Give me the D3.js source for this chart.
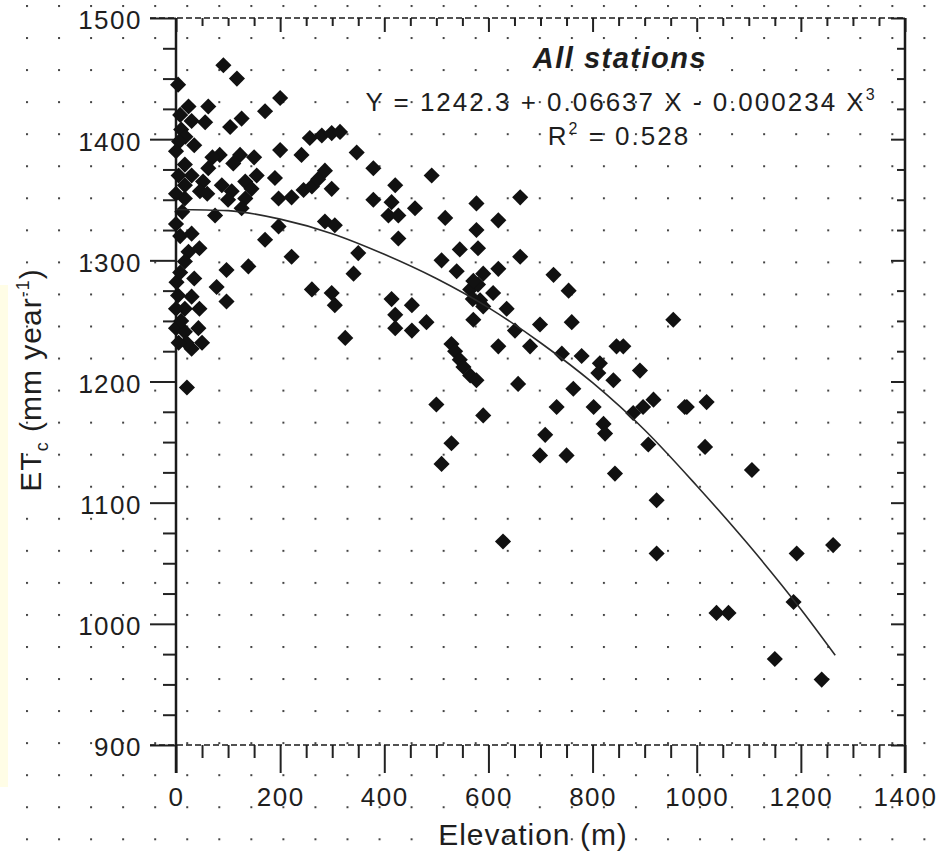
<!DOCTYPE html>
<html>
<head>
<meta charset="utf-8">
<script src="https://cdn.jsdelivr.net/npm/d3@7"></script>
<style>
body { margin: 0; background: #fff; }
text { font-family: Arial, "Liberation Sans", sans-serif; fill: #1e1e1e; }
</style>
</head>
<body>
<svg id="chart" width="939" height="853"></svg>
<script>
// station elevation (m) and ET (mm/year)
var elevation = [
  91, 117, 4, 200, 171, 24, 62, 126, 104, 10, 18, 6, 56, 257, 280, 299, 315, 200, 241, 347,
  379, 84, 123, 62, 52, 46, 88, 107, 133, 145, 133, 17, 17, 17, 12, 190, 197, 222, 245, 261,
  273, 286, 299, 75, 126, 197, 171, 286, 305, 379, 421, 414, 408, 427, 459, 427, 24, 17, 97, 139,
  222, 350, 341, 78, 97, 261, 299, 305, 325, 414, 421, 453, 421, 453, 1, 4, 17, 0, 17, 43,
  30, 21, 8, 30, 0, 35, 5, 30, 0, 0, 8, 30, 45, 8, 35, 0, 30, 10, 45, 20,
  50, 5, 70, 150, 110, 155, 60, 100,
  491, 517, 577, 661, 619, 577, 580, 545, 661, 510, 539, 590, 619, 725, 754, 565, 584, 580, 571, 609,
  571, 635, 481, 651, 699, 760, 955, 529, 536, 545, 552, 565, 577, 619, 680, 741, 779, 814, 811, 840,
  846, 891, 657, 763, 500, 590, 731, 802, 821, 824, 878, 897, 917, 981, 529, 709, 907, 699, 750, 510,
  570, 590, 859, 977, 1019, 1016, 843, 1106, 923, 923, 1192, 1262, 1038, 1061, 1186, 1150, 1240, 628
];
var et = [
  1461, 1450, 1445, 1434, 1423, 1427, 1427, 1417, 1410, 1408, 1402, 1398, 1414, 1401, 1403, 1405, 1406, 1391, 1387, 1389,
  1376, 1387, 1387, 1376, 1365, 1357, 1362, 1357, 1365, 1359, 1351, 1379, 1362, 1351, 1340, 1368, 1351, 1352, 1358, 1361,
  1367, 1374, 1359, 1337, 1343, 1328, 1317, 1332, 1329, 1350, 1362, 1348, 1337, 1337, 1343, 1318, 1307, 1299, 1292, 1295,
  1303, 1306, 1289, 1278, 1266, 1276, 1273, 1263, 1236, 1268, 1255, 1263, 1244, 1242, 1282, 1271, 1260, 1244, 1241, 1244,
  1227, 1195, 1420, 1415, 1390, 1395, 1370, 1370, 1355, 1330, 1320, 1322, 1310, 1290, 1285, 1260, 1270, 1250, 1260, 1232,
  1232, 1232, 1385, 1385, 1380, 1370, 1355, 1350,
  1370, 1335, 1347, 1352, 1333, 1325, 1310, 1309, 1303, 1300, 1291, 1289, 1293, 1288, 1275, 1276, 1267, 1280, 1283, 1273,
  1251, 1260, 1249, 1242, 1247, 1249, 1251, 1231, 1225, 1218, 1212, 1205, 1201, 1229, 1229, 1223, 1221, 1215, 1207, 1201,
  1229, 1209, 1198, 1194, 1181, 1172, 1179, 1179, 1165, 1157, 1174, 1179, 1185, 1179, 1149, 1156, 1148, 1139, 1139, 1132,
  1268, 1262, 1229, 1179, 1183, 1146, 1124, 1127, 1102, 1058, 1058, 1065, 1009, 1009, 1018, 971, 954, 1068
];

// regression curve as drawn in the figure
var fitElevation = [0, 100, 200, 300, 400, 500, 600, 700, 800, 900, 1000, 1100, 1200, 1266];
var fitEt = [1342, 1341, 1334, 1322, 1305, 1285, 1261, 1232, 1199, 1160, 1114, 1065, 1012, 974];

var xMajor = [0, 200, 400, 600, 800, 1000, 1200, 1400];
var yMajor = [900, 1000, 1100, 1200, 1300, 1400, 1500];

var titleText = "All stations";
var equationText = "Y = 1242.3 + 0.06637 X - 0.000234 X";
var equationPower = "3";
var r2Value = "0.528";

var svg = d3.select("#chart");

var x = d3.scaleLinear().domain([0, 1400]).range([176, 905]);
var y = d3.scaleLinear().domain([900, 1500]).range([745, 18]);

var xMinor = d3.range(0, 1401, 50).filter(function(v) { return v % 200 !== 0; });
var yMinor = d3.range(900, 1501, 25).filter(function(v) { return v % 100 !== 0; });

// dotted background of the scan
var defs = svg.append("defs");
var pat = defs.append("pattern")
  .attr("id", "dots")
  .attr("patternUnits", "userSpaceOnUse")
  .attr("x", 26).attr("y", 5)
  .attr("width", 32.05).attr("height", 32.05);
pat.append("rect").attr("x", 0).attr("y", 0).attr("width", 2).attr("height", 2).attr("fill", "#444");

svg.append("rect").attr("width", 939).attr("height", 853).attr("fill", "#fff");
svg.append("rect").attr("width", 939).attr("height", 853).attr("fill", "url(#dots)");

// pale yellow strip on the left edge
svg.append("rect").attr("x", 0).attr("y", 285).attr("width", 8).attr("height", 502).attr("fill", "#fffde6");

// axes
function styleAxis(g) {
  g.select(".domain").remove();
  g.selectAll("line").attr("stroke", "#222").attr("stroke-width", 2);
  g.selectAll("text").attr("font-size", 26).attr("letter-spacing", 1.5).attr("fill", "#333");
}

svg.append("g").attr("transform", "translate(176,0)")
  .call(d3.axisLeft(y).tickValues(yMinor).tickSize(13).tickFormat(""))
  .call(styleAxis);
svg.append("g").attr("transform", "translate(176,0)")
  .call(d3.axisLeft(y).tickValues(yMajor).tickSize(26).tickPadding(8).tickFormat(d3.format("d")))
  .call(styleAxis)
  .selectAll("text").attr("dy", "0.42em");

svg.append("g").attr("transform", "translate(0,745)")
  .call(d3.axisBottom(x).tickValues(xMinor).tickSize(13).tickFormat(""))
  .call(styleAxis);
svg.append("g").attr("transform", "translate(0,745)")
  .call(d3.axisBottom(x).tickValues(xMajor).tickSize(28).tickPadding(15).tickFormat(d3.format("d")))
  .call(styleAxis);

svg.append("g").attr("transform", "translate(0,18)")
  .call(d3.axisTop(x).tickValues(xMinor).tickSize(-8).tickFormat(""))
  .call(styleAxis);
svg.append("g").attr("transform", "translate(0,18)")
  .call(d3.axisTop(x).tickValues(xMajor).tickSize(-14).tickFormat(""))
  .call(styleAxis);

svg.append("g").attr("transform", "translate(905,0)")
  .call(d3.axisRight(y).tickValues(yMinor).tickSize(-8).tickFormat(""))
  .call(styleAxis);
svg.append("g").attr("transform", "translate(905,0)")
  .call(d3.axisRight(y).tickValues(yMajor).tickSize(-14).tickFormat(""))
  .call(styleAxis);

// frame
var frame = svg.append("g").attr("stroke", "#1a1a1a");
frame.append("line").attr("x1", 176).attr("x2", 176).attr("y1", 18).attr("y2", 773).attr("stroke-width", 2.5);
frame.append("line").attr("x1", 905).attr("x2", 905).attr("y1", 18).attr("y2", 773).attr("stroke-width", 2.5);
frame.append("line").attr("x1", 150).attr("x2", 905).attr("y1", 18).attr("y2", 18)
  .attr("stroke-width", 1.5).attr("stroke-dasharray", "6,3");
frame.append("line").attr("x1", 150).attr("x2", 905).attr("y1", 745).attr("y2", 745)
  .attr("stroke-width", 1.5).attr("stroke-dasharray", "6,3");

// points
var pts = elevation.map(function(e, i) { return [e, et[i]]; });
svg.append("g").selectAll("path")
  .data(pts)
  .enter().append("path")
  .attr("d", d3.symbol().type(d3.symbolSquare).size(130))
  .attr("transform", function(d) { return "translate(" + x(d[0]) + "," + y(d[1]) + ") rotate(45)"; })
  .attr("fill", "#111");

// fitted curve
var fit = fitElevation.map(function(e, i) { return [e, fitEt[i]]; });
svg.append("path")
  .datum(fit)
  .attr("d", d3.line().x(function(d) { return x(d[0]); }).y(function(d) { return y(d[1]); }).curve(d3.curveMonotoneX))
  .attr("fill", "none")
  .attr("stroke", "#2a2a2a")
  .attr("stroke-width", 1.6);

// annotation
svg.append("text")
  .attr("x", 620).attr("y", 68)
  .attr("text-anchor", "middle")
  .attr("font-size", 29).attr("font-weight", "bold").attr("font-style", "italic")
  .attr("letter-spacing", 1.5)
  .text(titleText);

var eq = svg.append("text")
  .attr("x", 621).attr("y", 111)
  .attr("text-anchor", "middle")
  .attr("font-size", 26).attr("letter-spacing", 2).attr("fill", "#333");
eq.append("tspan").text(equationText);
eq.append("tspan").attr("font-size", 16).attr("dy", -11).text(equationPower);

var r2 = svg.append("text")
  .attr("x", 619).attr("y", 145)
  .attr("text-anchor", "middle")
  .attr("font-size", 26).attr("letter-spacing", 2).attr("fill", "#333");
r2.append("tspan").text("R");
r2.append("tspan").attr("font-size", 16).attr("dy", -11).text("2");
r2.append("tspan").attr("dy", 11).text(" = " + r2Value);

// axis titles
svg.append("text")
  .attr("x", 533).attr("y", 845)
  .attr("text-anchor", "middle")
  .attr("font-size", 30).attr("letter-spacing", 1).attr("fill", "#333")
  .text("Elevation (m)");

var yt = svg.append("text")
  .attr("transform", "translate(41,380) rotate(-90)")
  .attr("text-anchor", "middle")
  .attr("font-size", 30).attr("letter-spacing", 1).attr("fill", "#333");
yt.append("tspan").text("ET");
yt.append("tspan").attr("font-size", 18).attr("dy", 7).text("c");
yt.append("tspan").attr("dy", -7).text(" (mm year");
yt.append("tspan").attr("font-size", 18).attr("dy", -12).text("-1");
yt.append("tspan").attr("dy", 12).text(")");
</script>
</body>
</html>
